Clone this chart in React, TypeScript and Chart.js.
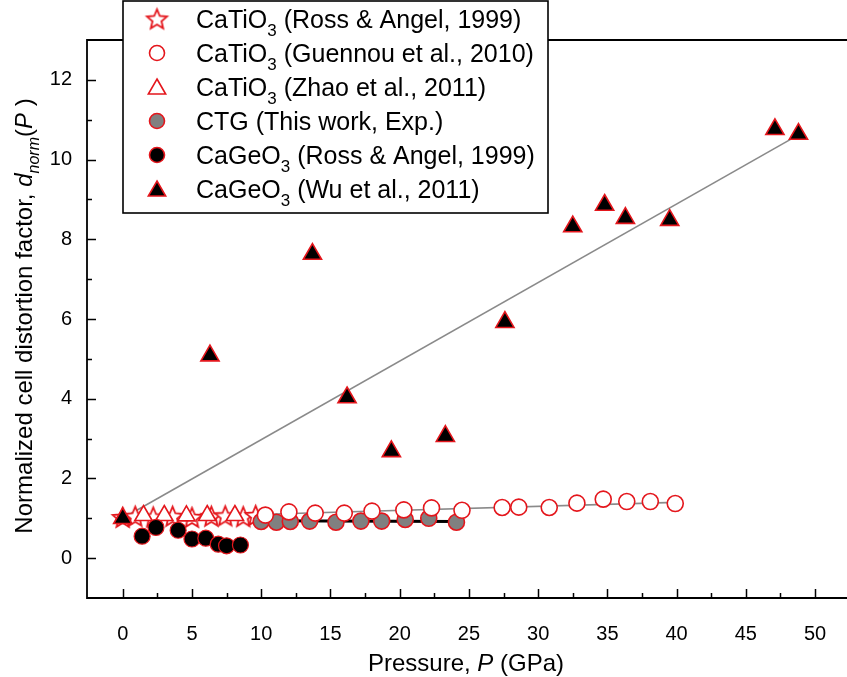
import React, { useEffect, useRef } from 'react';
import { Chart, registerables } from 'chart.js';

Chart.register(...registerables);

// ---- data ----
const rossTiP = [0, 0.9, 2.2, 3.6, 5.0, 6.4, 7.4, 8.7, 9.6];
const rossTiD = [1.02, 1.05, 1.03, 1.05, 1.02, 1.05, 1.06, 1.04, 1.07];
const guennouP = [10.3, 12.0, 13.9, 16.0, 18.0, 20.3, 22.3, 24.5, 27.4, 28.6, 30.8, 32.8, 34.7, 36.4, 38.1, 39.9];
const guennouD = [1.08, 1.16, 1.13, 1.13, 1.18, 1.21, 1.26, 1.2, 1.27, 1.28, 1.27, 1.38, 1.48, 1.42, 1.42, 1.37];
const zhaoP = [1.5, 3.0, 4.6, 6.1, 8.1];
const zhaoD = [1.07, 1.07, 1.06, 1.07, 1.07];
const ctgP = [10.0, 11.1, 12.1, 13.5, 15.4, 17.2, 18.7, 20.4, 22.1, 24.1];
const ctgD = [0.92, 0.9, 0.92, 0.93, 0.9, 0.93, 0.93, 0.97, 1.0, 0.9];
const rossGeP = [1.4, 2.4, 4.0, 5.0, 6.0, 6.9, 7.5, 8.5];
const rossGeD = [0.55, 0.77, 0.7, 0.48, 0.5, 0.35, 0.31, 0.33];
const wuP = [0, 6.3, 13.7, 16.2, 19.4, 23.3, 27.6, 32.5, 34.8, 36.3, 39.5, 47.1, 48.8];
const wuD = [1.0, 5.08, 7.63, 4.03, 2.68, 3.06, 5.92, 8.32, 8.86, 8.53, 8.48, 10.76, 10.64];

const wuFitP = [0, 48.8];
const wuFitD = [1.0, 10.62];
const guennouFitP = [10.3, 39.9];
const guennouFitD = [1.1, 1.4];
const ctgFitP = [10.0, 24.1];
const ctgFitD = [0.94, 0.92];

const xTicks = [0, 5, 10, 15, 20, 25, 30, 35, 40, 45, 50];
const xMinor = [2.5, 7.5, 12.5, 17.5, 22.5, 27.5, 32.5, 37.5, 42.5, 47.5];
const yTicks = [0, 2, 4, 6, 8, 10, 12];
const yMinor = [1, 3, 5, 7, 9, 11];

const RED = '#e4161c';
const FONT = '"Liberation Sans", Arial, sans-serif';

type Seg = { t: string; italic?: boolean; sub?: boolean };

const legendRows: { marker: string; segs: Seg[] }[] = [
  { marker: 'star', segs: [{ t: 'CaTiO' }, { t: '3', sub: true }, { t: ' (Ross & Angel, 1999)' }] },
  { marker: 'openCircle', segs: [{ t: 'CaTiO' }, { t: '3', sub: true }, { t: ' (Guennou et al., 2010)' }] },
  { marker: 'openTriangle', segs: [{ t: 'CaTiO' }, { t: '3', sub: true }, { t: ' (Zhao et al., 2011)' }] },
  { marker: 'grayCircle', segs: [{ t: 'CTG (This work, Exp.)' }] },
  { marker: 'blackCircle', segs: [{ t: 'CaGeO' }, { t: '3', sub: true }, { t: ' (Ross & Angel, 1999)' }] },
  { marker: 'blackTriangle', segs: [{ t: 'CaGeO' }, { t: '3', sub: true }, { t: ' (Wu et al., 2011)' }] },
];

const xTitle: Seg[] = [{ t: 'Pressure, ' }, { t: 'P', italic: true }, { t: ' (GPa)' }];
const yTitle: Seg[] = [
  { t: 'Normalized cell distortion factor, ' },
  { t: 'd', italic: true },
  { t: 'norm', italic: true, sub: true },
  { t: '(' },
  { t: 'P', italic: true },
  { t: ' )' },
];

const toXY = (xs: number[], ys: number[]) => xs.map((x, i) => ({ x, y: ys[i] }));

function starPath(g: CanvasRenderingContext2D, cx: number, cy: number, R: number, r: number) {
  g.beginPath();
  for (let i = 0; i < 10; i++) {
    const ang = -Math.PI / 2 + (i * Math.PI) / 5;
    const rad = i % 2 === 0 ? R : r;
    const px = cx + Math.cos(ang) * rad;
    const py = cy + Math.sin(ang) * rad;
    if (i === 0) g.moveTo(px, py);
    else g.lineTo(px, py);
  }
  g.closePath();
}

function makeStar(R: number) {
  const size = Math.ceil(2 * R + 6);
  const c = document.createElement('canvas');
  c.width = size;
  c.height = size;
  const g = c.getContext('2d')!;
  starPath(g, size / 2, size / 2 + R * 0.08, R, R * 0.45);
  g.fillStyle = '#ffffff';
  g.fill();
  g.lineWidth = 1.8;
  g.strokeStyle = RED;
  g.lineJoin = 'miter';
  g.stroke();
  return c;
}

function drawRich(ctx: CanvasRenderingContext2D, segs: Seg[], x: number, y: number, size: number, align: 'left' | 'center') {
  let total = 0;
  const parts = segs.map((s) => {
    const fs = s.sub ? Math.round(size * 0.66) : size;
    const font = `${s.italic ? 'italic ' : ''}${fs}px ${FONT}`;
    ctx.font = font;
    const w = ctx.measureText(s.t).width;
    total += w;
    return { font, w, dy: s.sub ? size * 0.3 : 0, t: s.t };
  });
  let cx = align === 'center' ? x - total / 2 : x;
  ctx.textAlign = 'left';
  ctx.textBaseline = 'alphabetic';
  ctx.fillStyle = '#000';
  for (const p of parts) {
    ctx.font = p.font;
    ctx.fillText(p.t, cx, y + p.dy);
    cx += p.w;
  }
}

function triPath(g: CanvasRenderingContext2D, x: number, y: number, r: number) {
  g.beginPath();
  for (let i = 0; i < 3; i++) {
    const a = (i * 2 * Math.PI) / 3;
    const px = x + Math.sin(a) * r;
    const py = y - Math.cos(a) * r;
    if (i === 0) g.moveTo(px, py);
    else g.lineTo(px, py);
  }
  g.closePath();
}

export default function App() {
  const ref = useRef<HTMLCanvasElement | null>(null);

  useEffect(() => {
    document.body.style.margin = '0';
    const canvas = ref.current!;
    const star = makeStar(10.5);

    const decor = {
      id: 'decor',
      afterDraw(chart: any) {
        const ctx: CanvasRenderingContext2D = chart.ctx;
        const { left, top, bottom } = chart.chartArea;
        const W = chart.width;
        const xs = chart.scales.x;
        const ys = chart.scales.y;
        ctx.save();
        // ticks (inward)
        ctx.strokeStyle = '#000';
        ctx.lineWidth = 1.5;
        ctx.beginPath();
        xTicks.forEach((v) => {
          const p = Math.round(xs.getPixelForValue(v)) + 0.5;
          ctx.moveTo(p, bottom);
          ctx.lineTo(p, bottom - 9);
        });
        xMinor.forEach((v) => {
          const p = Math.round(xs.getPixelForValue(v)) + 0.5;
          ctx.moveTo(p, bottom);
          ctx.lineTo(p, bottom - 5);
        });
        yTicks.forEach((v) => {
          const p = Math.round(ys.getPixelForValue(v)) + 0.5;
          ctx.moveTo(left, p);
          ctx.lineTo(left + 9, p);
        });
        yMinor.forEach((v) => {
          const p = Math.round(ys.getPixelForValue(v)) + 0.5;
          ctx.moveTo(left, p);
          ctx.lineTo(left + 5, p);
        });
        ctx.stroke();
        // frame (right side runs off the picture)
        ctx.lineWidth = 1.8;
        ctx.beginPath();
        ctx.moveTo(W, top);
        ctx.lineTo(left, top);
        ctx.lineTo(left, bottom);
        ctx.lineTo(W, bottom);
        ctx.stroke();

        // axis titles
        drawRich(ctx, xTitle, 466, 671, 24, 'center');
        ctx.save();
        ctx.translate(32, (top + bottom) / 2 - 3);
        ctx.rotate(-Math.PI / 2);
        drawRich(ctx, yTitle, 0, 0, 24, 'center');
        ctx.restore();

        // legend
        const lx = 123, ly = 1, lw = 425, lh = 212;
        ctx.fillStyle = '#fff';
        ctx.fillRect(lx, ly, lw, lh);
        ctx.strokeStyle = '#000';
        ctx.lineWidth = 1.6;
        ctx.strokeRect(lx, ly, lw, lh);
        const rowY = (i: number) => 19 + i * 34;
        const mx = 157;
        legendRows.forEach((row, i) => {
          const cy = rowY(i);
          ctx.lineWidth = 1.6;
          if (row.marker === 'star') {
            ctx.drawImage(star, mx - star.width / 2, cy - star.height / 2);
          } else if (row.marker.endsWith('Circle')) {
            ctx.beginPath();
            ctx.arc(mx, cy, 7.5, 0, Math.PI * 2);
            ctx.fillStyle = row.marker === 'openCircle' ? '#fff' : row.marker === 'grayCircle' ? '#808080' : '#000';
            ctx.fill();
            ctx.strokeStyle = RED;
            ctx.stroke();
          } else {
            triPath(ctx, mx, cy + 2, 10);
            ctx.fillStyle = row.marker === 'openTriangle' ? '#fff' : '#000';
            ctx.fill();
            ctx.strokeStyle = RED;
            ctx.stroke();
          }
          drawRich(ctx, row.segs, 196, cy + 9, 25, 'left');
        });
        ctx.restore();
      },
    };

    const chart = new Chart(canvas, {
      type: 'scatter',
      data: {
        datasets: [
          {
            label: 'Wu fit',
            data: toXY(wuFitP, wuFitD),
            showLine: true,
            borderColor: '#8a8a8a',
            borderWidth: 1.6,
            pointRadius: 0,
            order: 10,
          },
          {
            label: 'Guennou fit',
            data: toXY(guennouFitP, guennouFitD),
            showLine: true,
            borderColor: '#8a8a8a',
            borderWidth: 1.6,
            pointRadius: 0,
            order: 11,
          },
          {
            label: 'CTG fit',
            data: toXY(ctgFitP, ctgFitD),
            showLine: true,
            borderColor: '#000',
            borderWidth: 3,
            pointRadius: 0,
            order: 9,
          },
          {
            label: 'CaTiO3 (Ross & Angel, 1999)',
            data: toXY(rossTiP, rossTiD),
            pointStyle: star as any,
            pointRadius: 10,
            order: 8,
          },
          {
            label: 'CaTiO3 (Zhao et al., 2011)',
            data: toXY(zhaoP, zhaoD),
            pointStyle: 'triangle',
            pointRadius: 10,
            pointBackgroundColor: '#fff',
            pointBorderColor: RED,
            pointBorderWidth: 1.6,
            order: 7,
          },
          {
            label: 'CTG (This work, Exp.)',
            data: toXY(ctgP, ctgD),
            pointStyle: 'circle',
            pointRadius: 8,
            pointBackgroundColor: '#808080',
            pointBorderColor: RED,
            pointBorderWidth: 1.6,
            order: 6,
          },
          {
            label: 'CaTiO3 (Guennou et al., 2010)',
            data: toXY(guennouP, guennouD),
            pointStyle: 'circle',
            pointRadius: 8,
            pointBackgroundColor: '#fff',
            pointBorderColor: RED,
            pointBorderWidth: 1.6,
            order: 5,
          },
          {
            label: 'CaGeO3 (Ross & Angel, 1999)',
            data: toXY(rossGeP, rossGeD),
            pointStyle: 'circle',
            pointRadius: 8,
            pointBackgroundColor: '#000',
            pointBorderColor: RED,
            pointBorderWidth: 1.2,
            order: 4,
          },
          {
            label: 'CaGeO3 (Wu et al., 2011)',
            data: toXY(wuP, wuD),
            pointStyle: 'triangle',
            pointRadius: 10.5,
            pointBackgroundColor: '#000',
            pointBorderColor: RED,
            pointBorderWidth: 1.6,
            order: 3,
          },
        ],
      },
      options: {
        animation: false,
        responsive: false,
        devicePixelRatio: 1,
        layout: { padding: { top: 40, right: 1, left: 0, bottom: 0 } },
        plugins: {
          legend: { display: false },
          tooltip: { enabled: false },
        },
        scales: {
          x: {
            type: 'linear',
            min: -2.58,
            max: 51.43,
            grid: { display: false, drawTicks: false },
            border: { display: false },
            afterFit: (s: any) => {
              s.height = 79;
              s.paddingLeft = 0;
              s.paddingRight = 0;
            },
            afterBuildTicks: (s: any) => {
              s.ticks = xTicks.map((v) => ({ value: v }));
            },
            ticks: {
              padding: 24,
              color: '#000',
              font: { size: 20, family: FONT },
              maxRotation: 0,
              autoSkip: false,
            },
          },
          y: {
            type: 'linear',
            min: -1,
            max: 13,
            grid: { display: false, drawTicks: false },
            border: { display: false },
            afterFit: (s: any) => {
              s.width = 87;
              s.paddingTop = 0;
              s.paddingBottom = 0;
            },
            afterBuildTicks: (s: any) => {
              s.ticks = yTicks.map((v) => ({ value: v }));
            },
            ticks: {
              padding: 15,
              color: '#000',
              font: { size: 20, family: FONT },
              autoSkip: false,
            },
          },
        },
      },
      plugins: [decor],
    });

    return () => chart.destroy();
  }, []);

  return (
    <div style={{ width: 847, height: 677 }}>
      <canvas ref={ref} width={847} height={677} style={{ display: 'block', width: 847, height: 677 }} />
    </div>
  );
}
